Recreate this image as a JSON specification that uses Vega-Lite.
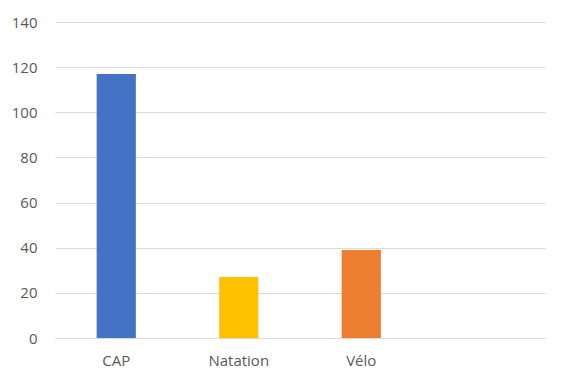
{
  "$schema": "https://vega.github.io/schema/vega-lite/v6.json",
  "autosize": "none",
  "width": 490,
  "height": 316,
  "padding": {"left": 55, "top": 22, "right": 20, "bottom": 45},
  "background": "white",
  "config": {"view": {"stroke": null}},
  "data": {"values": [
    {"cat": "CAP", "val": 117},
    {"cat": "Natation", "val": 27},
    {"cat": "Vélo", "val": 39}
  ]},
  "mark": {"type": "bar"},
  "encoding": {
    "x": {
      "field": "cat", "type": "nominal",
      "scale": {"domain": ["CAP", "Natation", "Vélo", " "], "paddingInner": 0.68, "paddingOuter": 0.34},
      "axis": {"title": null, "labelAngle": 0, "ticks": false, "domain": true, "domainColor": "#d9d9d9", "domainWidth": 1, "labelPadding": 15, "labelFont": "Open Sans", "labelFontSize": 15, "labelColor": "#595959"}
    },
    "y": {
      "field": "val", "type": "quantitative",
      "scale": {"domain": [0, 140], "nice": false},
      "axis": {"title": null, "values": [0, 20, 40, 60, 80, 100, 120, 140], "ticks": false, "domain": false, "gridColor": "#d9d9d9", "gridWidth": 1, "labelPadding": 18, "labelFont": "Open Sans", "labelFontSize": 15, "labelColor": "#595959"}
    },
    "color": {
      "field": "cat", "type": "nominal",
      "scale": {"domain": ["CAP", "Natation", "Vélo"], "range": ["#4472C4", "#FFC000", "#ED7D31"]},
      "legend": null
    }
  }
}
